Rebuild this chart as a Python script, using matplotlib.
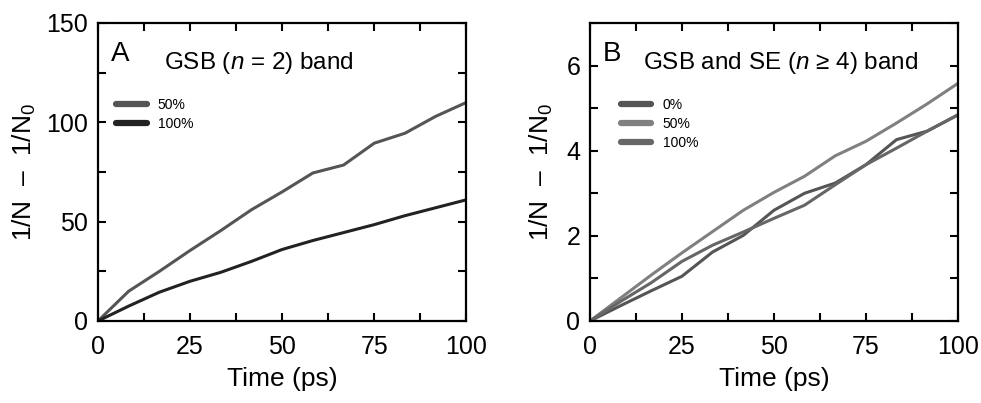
import numpy as np
import matplotlib
matplotlib.use("Agg")
import matplotlib.pyplot as plt
from matplotlib.ticker import MultipleLocator

plt.rcParams['font.family'] = ['Liberation Sans', 'DejaVu Sans']
plt.rcParams['mathtext.fontset'] = 'custom'
plt.rcParams['mathtext.rm'] = 'Liberation Sans'
plt.rcParams['mathtext.it'] = 'Liberation Sans:italic'

# time points (ps), every 100/12
t = [0, 8.33, 16.67, 25, 33.33, 41.67, 50, 58.33, 66.67, 75, 83.33, 91.67, 100]

# panel A: GSB (n = 2)
a_50 = [0, 15, 25, 35.5, 45.5, 56, 65, 74.5, 78.5, 89.5, 94.5, 103, 110]
a_100 = [0, 7.5, 14.5, 20, 24.5, 30, 36, 40.5, 44.5, 48.5, 53, 57, 61]

# panel B: GSB and SE (n >= 4)
b_0 = [0, 0.36, 0.71, 1.05, 1.62, 2.01, 2.6, 3.0, 3.24, 3.67, 4.26, 4.46, 4.84]
b_50 = [0, 0.54, 1.08, 1.6, 2.1, 2.6, 3.02, 3.4, 3.88, 4.22, 4.65, 5.1, 5.58]
b_100 = [0, 0.46, 0.9, 1.4, 1.78, 2.09, 2.41, 2.72, 3.2, 3.67, 4.06, 4.46, 4.84]

fig = plt.figure(figsize=(9.81, 4.03), dpi=100)
axA = fig.add_axes([0.0999, 0.2035, 0.3755, 0.7395])
axB = fig.add_axes([0.6014, 0.2035, 0.3750, 0.7395])

lw = 2.2
axA.plot(t, a_50, color='#555555', lw=lw, label='50%')
axA.plot(t, a_100, color='#222222', lw=lw, label='100%')

axB.plot(t, b_0, color='#555555', lw=lw, label='0%')
axB.plot(t, b_50, color='#808080', lw=lw, label='50%')
axB.plot(t, b_100, color='#666666', lw=lw, label='100%')

# ylabel centre x and legend left x, in axes coords
for ax, ymax, ymaj, ymin, ylab_x, leg_x in [(axA, 150, 50, 25, -0.201, 0.049),
                                            (axB, 7, 2, 1, -0.133, 0.084)]:
    ax.set_xlim(0, 100)
    ax.set_ylim(0, ymax)
    ax.xaxis.set_major_locator(MultipleLocator(25))
    ax.xaxis.set_minor_locator(MultipleLocator(12.5))
    ax.yaxis.set_major_locator(MultipleLocator(ymaj))
    ax.yaxis.set_minor_locator(MultipleLocator(ymin))
    ax.tick_params(which='both', direction='in', top=True, right=True,
                   width=1.5, length=6, labelsize=18)
    ax.tick_params(axis='x', which='major', pad=10)
    ax.tick_params(axis='y', which='major', pad=7)
    for s in ax.spines.values():
        s.set_linewidth(1.6)
    ax.set_xlabel('Time (ps)', fontsize=19, labelpad=6)
    ax.set_ylabel('1/N  \u2013  1/N$_0$', fontsize=19, va='center')
    ax.yaxis.set_label_coords(ylab_x, 0.5)
    leg = ax.legend(loc='upper left', frameon=False, fontsize=10,
                    handlelength=2.2, handletextpad=0.8, labelspacing=0.35,
                    borderaxespad=0, borderpad=0, bbox_to_anchor=(leg_x, 0.748))
    for ln in leg.get_lines():
        ln.set_linewidth(4.5)
        ln.set_solid_capstyle('round')

axB.set_yticks([0, 2, 4, 6])

axA.text(0.035, 0.94, 'A', transform=axA.transAxes, fontsize=20, va='top')
axA.text(0.18, 0.865, 'GSB ($n$ = 2) band', transform=axA.transAxes, fontsize=17.5, va='center')
axB.text(0.035, 0.94, 'B', transform=axB.transAxes, fontsize=20, va='top')
axB.text(0.144, 0.865, 'GSB and SE ($n$ \u2265 4) band', transform=axB.transAxes, fontsize=17.5, va='center')

fig.savefig('out.png', dpi=100)
